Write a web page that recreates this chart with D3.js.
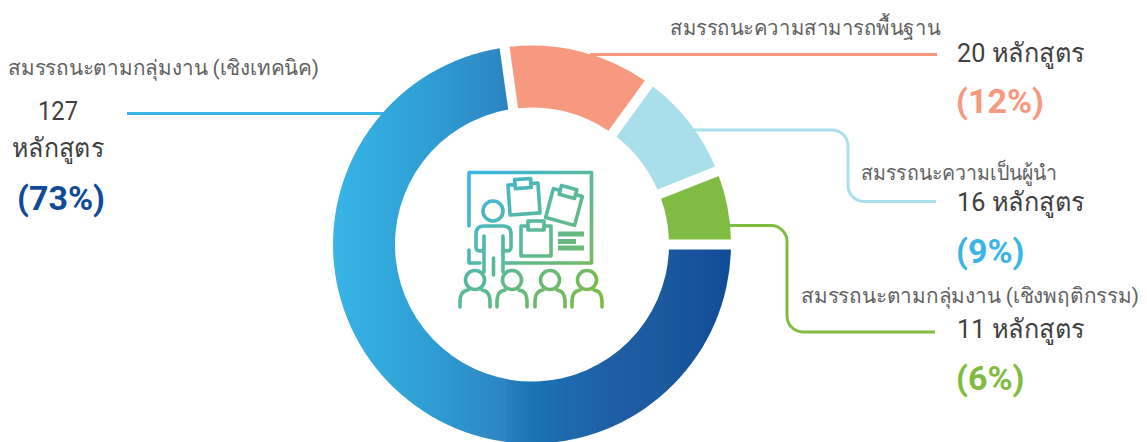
<!DOCTYPE html>
<html>
<head>
<meta charset="utf-8">
<script src="https://cdn.jsdelivr.net/npm/d3@7"></script>
<style>
  html, body { margin: 0; padding: 0; background: #fff; overflow: hidden; }
  text { font-family: Roboto, "Noto Sans", sans-serif; }
</style>
</head>
<body>
<script>
// chart data
var categories = ["สมรรถนะตามกลุ่มงาน (เชิงเทคนิค)", "สมรรถนะความสามารถพื้นฐาน", "สมรรถนะความเป็นผู้นำ", "สมรรถนะตามกลุ่มงาน (เชิงพฤติกรรม)"];
var courses = [127, 20, 16, 11];
var percents = ["(73%)", "(12%)", "(9%)", "(6%)"];
// slice sizes as measured on the picture, in percent of the ring
var sliceShares = [72.8, 12.2, 9, 6];
var unit = "หลักสูตร";

// global variables
var w = 1147;
var h = 442;
var cx = 532;
var cy = 244.5;
var outerR = 199;
var innerR = 137;
var gap = 10;

var sliceColors = ["url(#blueGrad)", "#f7997f", "#a9deeb", "#80bc41"];
var lineColors = ["#3ab5e6", "#f7997f", "#a9deeb", "#80bc41"];
var percentColors = ["#114b97", "#f7997f", "#3ab5e6", "#80bc41"];

var blueStops = [
  [0, "#3ab5e6"], [0.08, "#33ade1"], [0.25, "#2e9dd3"], [0.43, "#2d85c1"], [0.44, "#2a7fbb"],
  [0.5, "#1a75b5"], [0.68, "#1f5fa6"], [0.82, "#1c5a9e"], [1, "#0f4c97"]
];

var svg = d3.select("body")
            .append("svg")
            .attr("width", w)
            .attr("height", h)
            .style("display", "block");

var defs = svg.append("defs");

// gradient of the big slice, in the coordinates of the donut group
defs.append("linearGradient")
    .attr("id", "blueGrad")
    .attr("gradientUnits", "userSpaceOnUse")
    .attr("x1", -outerR).attr("x2", outerR)
    .attr("y1", 0).attr("y2", 0)
    .selectAll("stop")
    .data(blueStops)
    .enter()
    .append("stop")
    .attr("offset", function(d) { return d[0]; })
    .attr("stop-color", function(d) { return d[1]; });

// gradient of the icon
var iconGrad = defs.append("linearGradient")
                   .attr("id", "iconGrad")
                   .attr("gradientUnits", "userSpaceOnUse")
                   .attr("x1", 468).attr("y1", 172)
                   .attr("x2", 600).attr("y2", 308);
iconGrad.append("stop").attr("offset", "0").attr("stop-color", "#38b6e8");
iconGrad.append("stop").attr("offset", "1").attr("stop-color", "#80bc41");

// leader lines, under the slices
function leader(points, r) {
  var p = d3.path();
  p.moveTo(points[0][0], points[0][1]);
  for (var i = 1; i < points.length - 1; i++) {
    p.arcTo(points[i][0], points[i][1], points[i + 1][0], points[i + 1][1], r);
  }
  p.lineTo(points[points.length - 1][0], points[points.length - 1][1]);
  return p.toString();
}

var leaders = [
  [[127, 113.5], [400, 113.5]],
  [[590, 54.5], [937, 54.5]],
  [[680, 130], [848, 130], [848, 201.5], [936, 201.5]],
  [[720, 225.5], [787, 225.5], [787, 332], [935, 332]]
];

svg.selectAll(".leader")
   .data(leaders)
   .enter()
   .append("path")
   .attr("class", "leader")
   .attr("d", function(d) { return leader(d, 16); })
   .attr("fill", "none")
   .attr("stroke-width", 3)
   .attr("stroke", function(d, i) { return lineColors[i]; });

// donut, the gap is only cut by the arc so the slices stay proportional
var pie = d3.pie()
            .sort(null)
            .startAngle(Math.PI / 2)
            .endAngle(Math.PI * 2.5);

var arc = d3.arc()
            .innerRadius(innerR)
            .outerRadius(outerR)
            .padRadius((outerR + innerR) / 2)
            .padAngle(gap / ((outerR + innerR) / 2));

svg.append("g")
   .attr("transform", "translate(" + cx + "," + cy + ")")
   .selectAll("path")
   .data(pie(sliceShares))
   .enter()
   .append("path")
   .attr("d", arc)
   .attr("fill", function(d, i) { return sliceColors[i]; });

// text blocks, len forces the width seen in the reference
function addText(x, y, str, size, color, len, anchor, weight) {
  var t = svg.append("text")
             .attr("x", x)
             .attr("y", y)
             .attr("font-size", size)
             .attr("fill", color)
             .attr("text-anchor", anchor || "start")
             .attr("font-weight", weight || 400)
             .text(str);
  if (len) {
    t.attr("textLength", len).attr("lengthAdjust", "spacingAndGlyphs");
  }
}

var labelColor = "#616161";
var countColor = "#404040";
var labelSize = 21;
var countSize = 26;
var percentSize = 34;
var countLen = 128;

addText(8, 75, categories[0], labelSize, labelColor, 311);
addText(58, 120, courses[0], countSize, countColor, 40, "middle");
addText(58, 157, unit, countSize, countColor, 92, "middle");
addText(61, 210, percents[0], percentSize, percentColors[0], null, "middle", 700);

addText(670, 35, categories[1], labelSize, labelColor, 270);
addText(957, 62, courses[1] + " " + unit, countSize, countColor, countLen);
addText(956, 113, percents[1], percentSize, percentColors[1], null, "start", 700);

addText(861, 180, categories[2], labelSize, labelColor, 196);
addText(957, 211, courses[2] + " " + unit, countSize, countColor, countLen);
addText(956, 263, percents[2], percentSize, percentColors[2], null, "start", 700);

addText(801, 303, categories[3], labelSize, labelColor, 338);
addText(957, 338, courses[3] + " " + unit, countSize, countColor, countLen);
addText(956, 390, percents[3], percentSize, percentColors[3], null, "start", 700);

// icon in the middle
var icon = svg.append("g")
              .attr("fill", "none")
              .attr("stroke", "url(#iconGrad)")
              .attr("stroke-width", 3.6)
              .attr("stroke-linejoin", "round")
              .attr("stroke-linecap", "round");

// board, broken where the presenter stands in front of it
icon.append("path").attr("d", "M469,226V172.5H591.5V263H505");
icon.append("path").attr("d", "M469,250V263H480");

// rotates a list of points round (x,y), the gradient has to stay in page coordinates
function turned(x, y, angle, pts) {
  var a = angle * Math.PI / 180;
  return "M" + pts.map(function(p) {
    return [x + p[0] * Math.cos(a) - p[1] * Math.sin(a), y + p[0] * Math.sin(a) + p[1] * Math.cos(a)].join(",");
  }).join("L");
}

function clipboard(x, y, angle) {
  var s = 15;
  icon.append("path").attr("d", turned(x, y, angle, [[-8, -s], [-s, -s], [-s, s], [s, s], [s, -s], [8, -s]]));
  icon.append("path").attr("d", turned(x, y, angle, [[-8, -s - 5], [8, -s - 5], [8, s - 26], [-8, s - 26], [-8, -s - 5]]));
}
clipboard(524, 199, -4);
clipboard(564, 207, 15);
clipboard(536, 241, 0);

icon.selectAll(".bar")
    .data([[558, 584, 234], [558, 576, 241.5], [558, 584, 248]])
    .enter()
    .append("line")
    .attr("stroke-width", 5)
    .attr("stroke-linecap", "butt")
    .attr("x1", function(d) { return d[0]; })
    .attr("x2", function(d) { return d[1]; })
    .attr("y1", function(d) { return d[2]; })
    .attr("y2", function(d) { return d[2]; });

// presenter
icon.append("circle").attr("cx", 493).attr("cy", 211).attr("r", 10);
icon.append("path").attr("d", "M484,236V248Q484,251 480,251Q476,251 476,247V234Q476,226 484,226H503Q511,226 511,234V247Q511,251 507,251Q503,251 503,248V236");
icon.append("path").attr("d", "M484,248V272M503,248V272M493.5,258V275");

// audience
[475, 512, 550, 587].forEach(function(x) {
  icon.append("circle").attr("cx", x).attr("cy", 280).attr("r", 9.5);
  icon.append("path").attr("d", "M" + (x - 15) + ",307V302Q" + (x - 15) + ",291 " + (x - 7) + ",290M" + (x + 7) + ",290Q" + (x + 15) + ",291 " + (x + 15) + ",302V307");
});
</script>
</body>
</html>
